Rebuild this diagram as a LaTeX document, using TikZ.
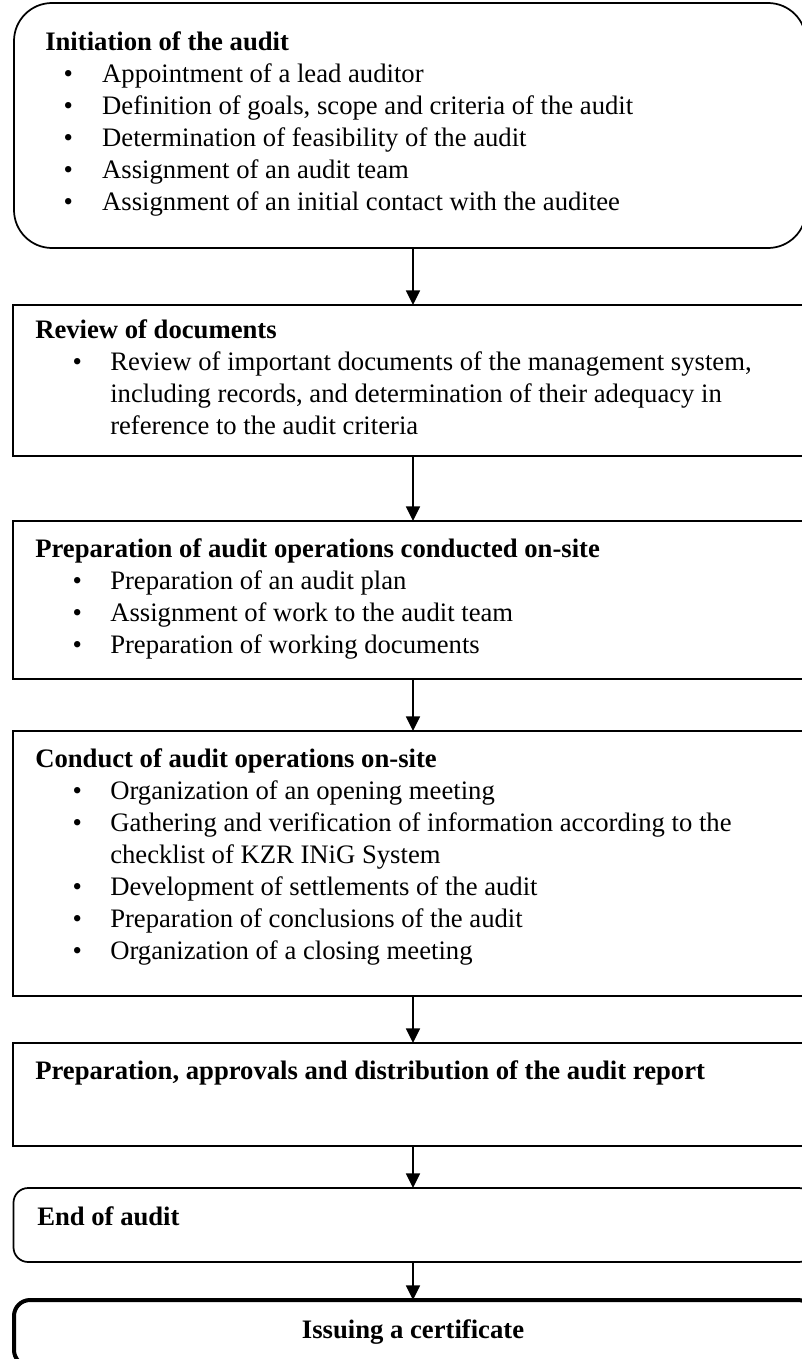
\documentclass[tikz,border=0pt]{standalone}
\usepackage{fontspec}
\setmainfont{Liberation Serif}
\usetikzlibrary{arrows.meta,positioning}
\tikzset{
  stagebox/.style={
    rectangle,
    draw=black,
    line width=1.3pt,
    outer sep=0pt,
    inner sep=0pt,
    minimum width=600pt,
    anchor=north west
  },
  roundbox/.style={
    stagebox,
    rounded corners=28.5pt,
    minimum width=594pt
  },
  endbox/.style={
    stagebox,
    rounded corners=11pt
  },
  certbox/.style={
    stagebox,
    rounded corners=12pt,
    line width=3pt
  },
  stagetext/.style={
    anchor=base west,
    inner sep=0pt,
    align=left,
    font=\fontsize{20pt}{24pt}\selectfont
  },
  flowline/.style={-{Triangle[length=11pt,width=10.5pt]},line width=1.3pt}
}
% bullet lines
\newcommand{\itm}{\hspace*{56.25pt}\llap{\textbullet\hspace*{21.2pt}}}
\newcommand{\cnt}{\hspace*{56.25pt}}
\newcommand{\itmA}{\hspace*{42.75pt}\llap{\textbullet\hspace*{22pt}}}

\begin{document}
\begin{tikzpicture}[x=0.75pt,y=-0.75pt]
  \useasboundingbox (0,0) rectangle (802,1359);
  % boxes
  \node[roundbox, minimum height=183.75pt] (init) at (14,3) {};
  \node[stagebox, minimum height=113.25pt] (review) at (13,305) {};
  \node[stagebox, minimum height=118.5pt] (prep) at (13,521) {};
  \node[stagebox, minimum height=198.75pt] (conduct) at (13,731) {};
  \node[stagebox, minimum height=77.25pt] (report) at (13,1043) {};
  \node[endbox, minimum height=55.5pt] (finish) at (13.5,1188) {};
  \node[certbox, minimum height=49.5pt] (cert) at (14,1300) {};
  % texts (placed at the baseline of the last line)
  \node[stagetext] (initTxt) at (45,210) {\textbf{Initiation of the audit}\\
    \itmA Appointment of a lead auditor\\
    \itmA Definition of goals, scope and criteria of the audit\\
    \itmA Determination of feasibility of the audit\\
    \itmA Assignment of an audit team\\
    \itmA Assignment of an initial contact with the auditee};
  \node[stagetext] (reviewTxt) at (35,434) {\textbf{Review of documents}\\
    \itm Review of important documents of the management system,\\
    \cnt including records, and determination of their adequacy in\\
    \cnt reference to the audit criteria};
  \node[stagetext] (prepTxt) at (35,653) {\textbf{Preparation of audit operations conducted on-site}\\
    \itm Preparation of an audit plan\\
    \itm Assignment of work to the audit team\\
    \itm Preparation of working documents};
  \node[stagetext] (conductTxt) at (35,959) {\textbf{Conduct of audit operations on-site}\\
    \itm Organization of an opening meeting\\
    \itm Gathering and verification of information according to the\\
    \cnt checklist of KZR INiG System\\
    \itm Development of settlements of the audit\\
    \itm Preparation of conclusions of the audit\\
    \itm Organization of a closing meeting};
  \node[stagetext] (reportTxt) at (35,1079) {\textbf{Preparation, approvals and distribution of the audit report}};
  \node[stagetext] (finishTxt) at (37,1225) {\textbf{End of audit}};
  \node[stagetext, anchor=base] (certTxt) at (413,1338) {\textbf{Issuing a certificate}};
  % arrows
  \draw[flowline] (init.south -| review.north) -- (review.north);
  \draw[flowline] (review) -- (prep);
  \draw[flowline] (prep) -- (conduct);
  \draw[flowline] (conduct) -- (report);
  \draw[flowline] (report) -- (finish.north -| report.south);
  \draw[flowline] (finish.south -| report.south) -- (cert.north -| report.south);
\end{tikzpicture}
\end{document}
